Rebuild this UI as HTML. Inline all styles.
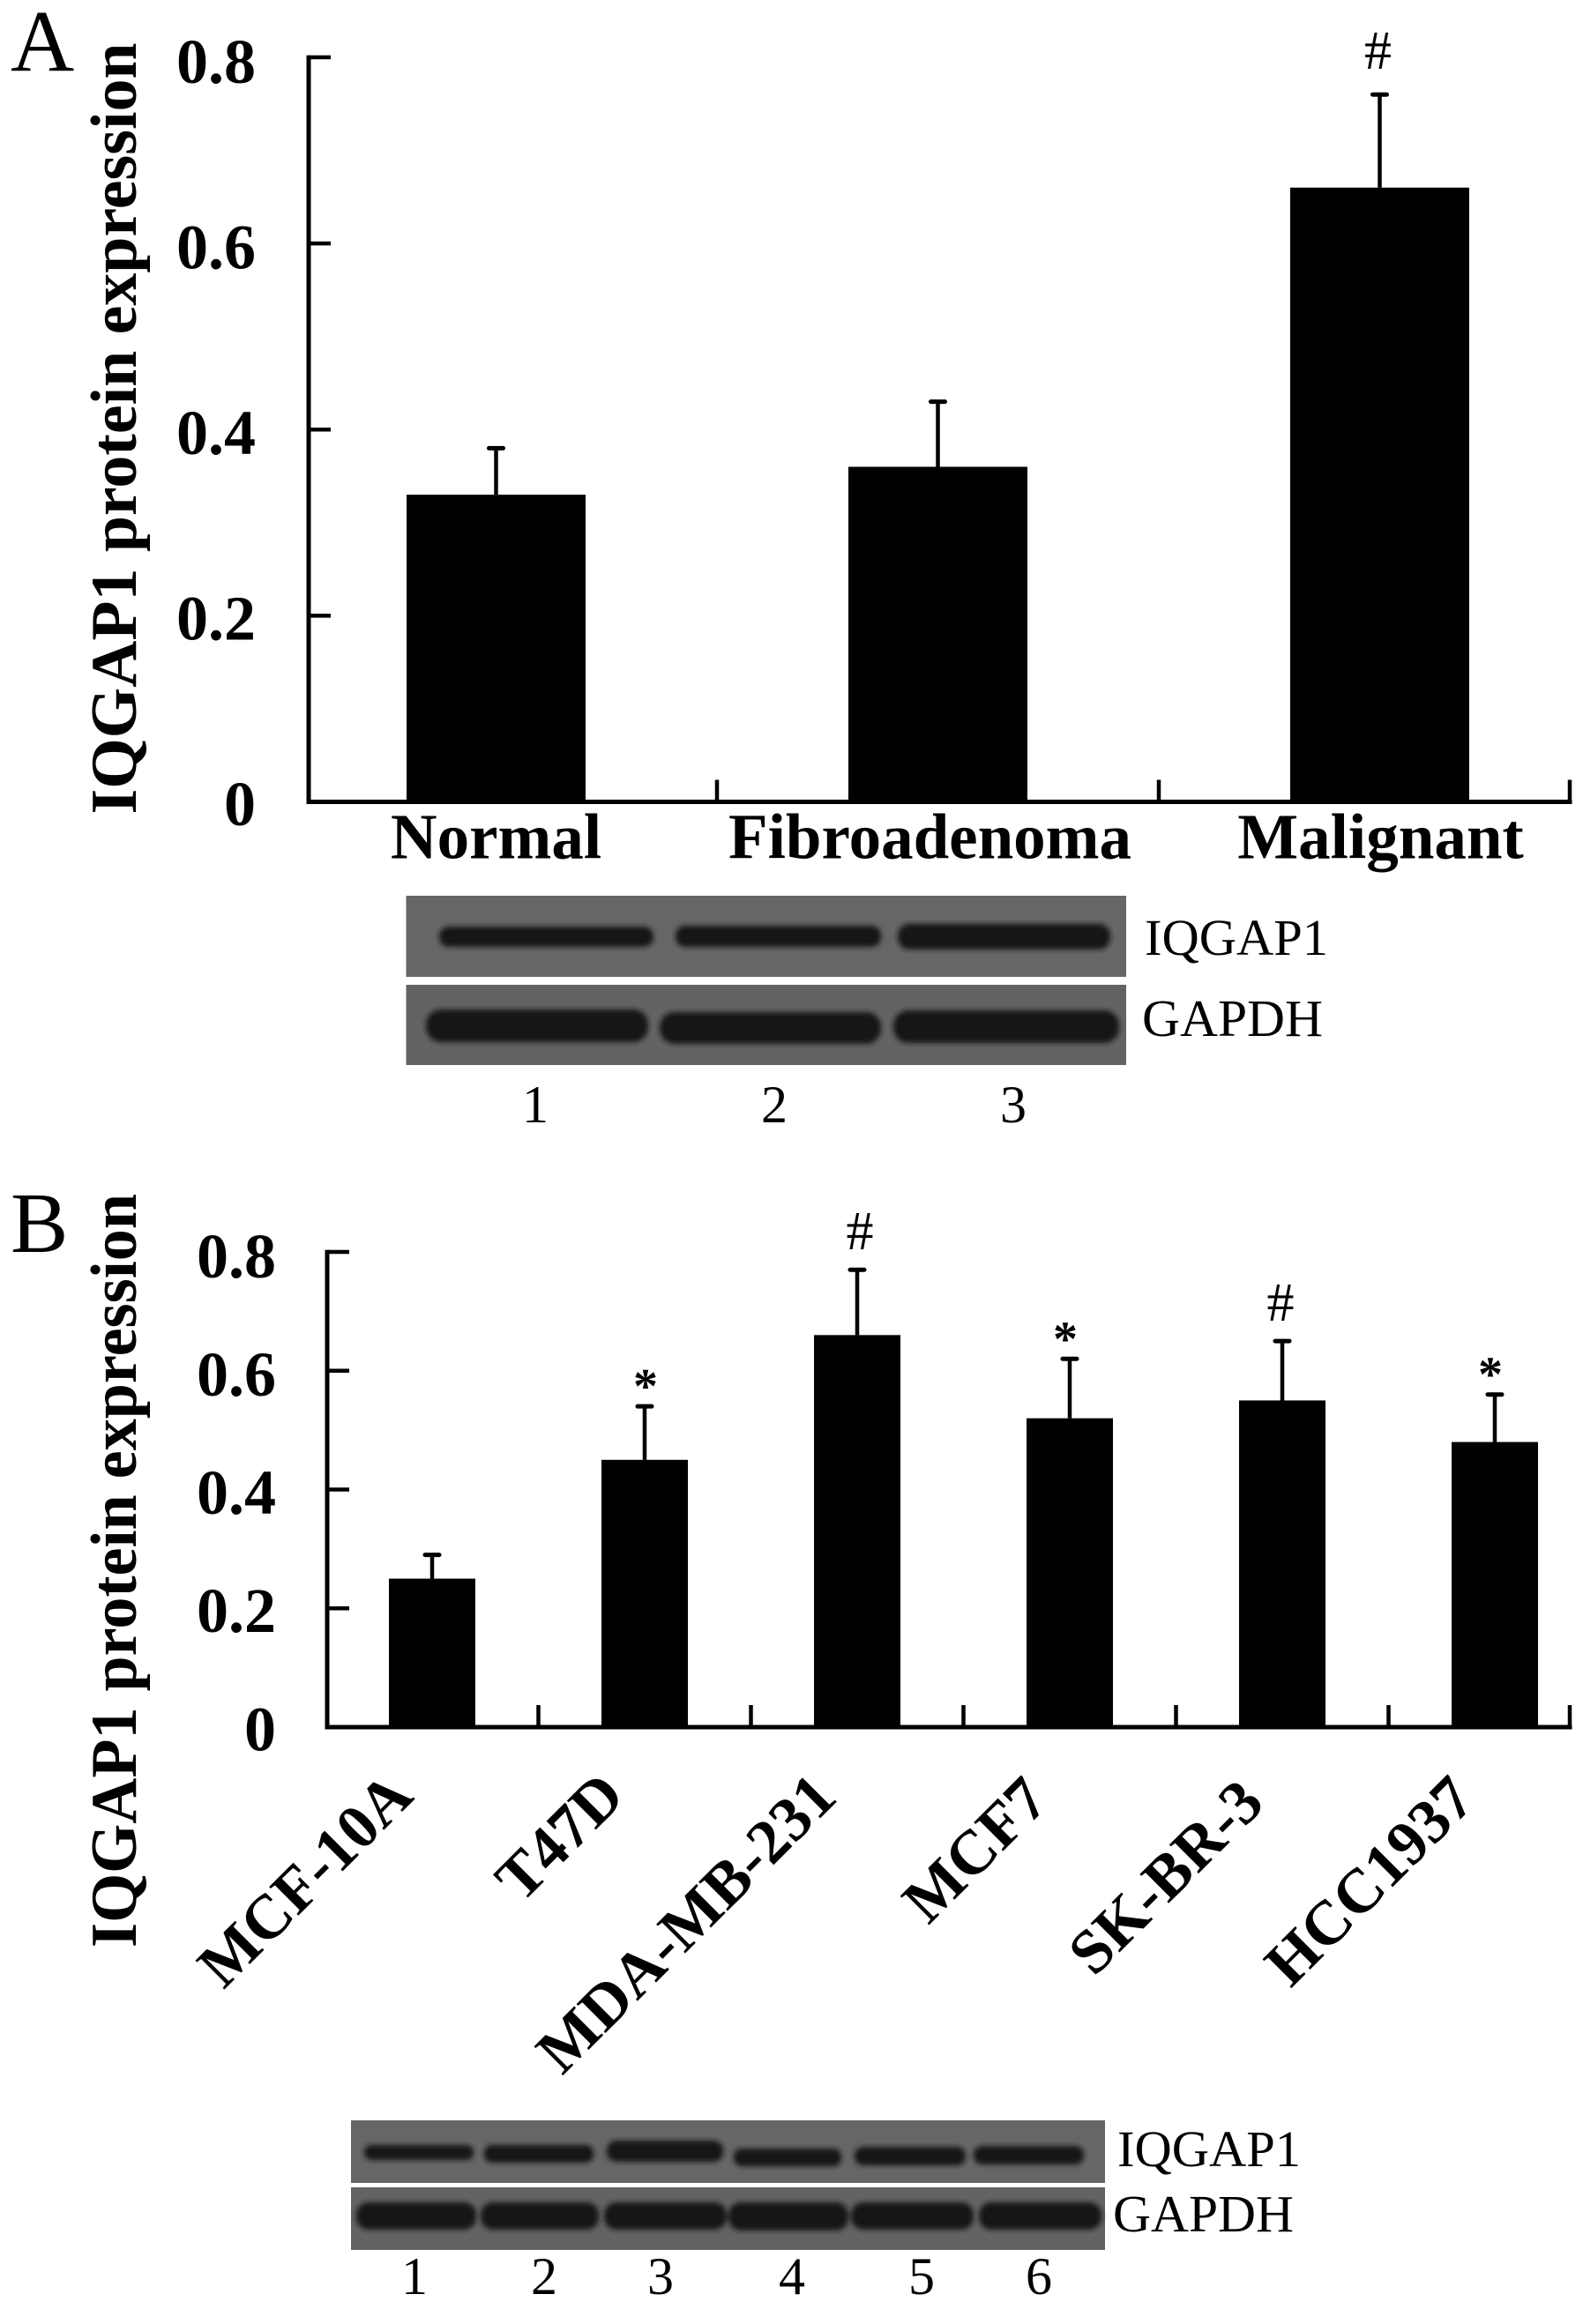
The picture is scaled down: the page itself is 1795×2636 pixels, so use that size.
<!DOCTYPE html>
<html lang="en">
<head>
<meta charset="utf-8">
<title>IQGAP1 protein expression</title>
<style>
html,body{margin:0;padding:0;background:#fff;}
svg{display:block;font-family:"Liberation Serif",serif;}
</style>
</head>
<body>
<svg id="figure" xmlns="http://www.w3.org/2000/svg" width="1795" height="2636" viewBox="0 0 1795 2636">
  <defs>
    <filter id="soft" x="-10%" y="-60%" width="120%" height="220%"><feGaussianBlur stdDeviation="2.8"/></filter>
  </defs>
  <rect width="1795" height="2636" fill="#fff"/>

  <text x="12" y="80" font-size="100">A</text>
  <text x="12" y="1420" font-size="98">B</text>

  <g id="panelA"></g>
  <g id="panelB"></g>

  <g>
    <rect x="460.5" y="1016" width="816.5" height="92" fill="#666"/>
    <rect x="460.5" y="1117" width="816.5" height="91" fill="#636363"/>
    <g fill="#161616" filter="url(#soft)">
      <rect x="498" y="1051" width="243" height="23" rx="11"/>
      <rect x="766" y="1050" width="233" height="24" rx="11"/>
      <rect x="1018" y="1048" width="241" height="29" rx="13"/>
      <rect x="483" y="1145" width="252" height="37" rx="17"/>
      <rect x="748" y="1148" width="251" height="36" rx="17"/>
      <rect x="1013" y="1146" width="256" height="37" rx="17"/>
    </g>
    <text x="1298" y="1083" font-size="58.5">IQGAP1</text>
    <text x="1295" y="1175" font-size="59.5">GAPDH</text>
    <g font-size="60" text-anchor="middle">
      <text x="607" y="1273">1</text>
      <text x="878" y="1273">2</text>
      <text x="1149" y="1273">3</text>
    </g>
  </g>

  <g>
    <rect x="398" y="2405" width="855" height="71" fill="#666"/>
    <rect x="398" y="2481" width="855" height="71" fill="#636363"/>
    <g fill="#161616" filter="url(#soft)">
      <rect x="413" y="2433" width="124" height="17" rx="8"/>
      <rect x="549" y="2433" width="124" height="20" rx="9"/>
      <rect x="688" y="2428" width="132" height="24" rx="11"/>
      <rect x="832" y="2437" width="122" height="20" rx="9"/>
      <rect x="969" y="2435" width="126" height="21" rx="10"/>
      <rect x="1104" y="2434" width="125" height="21" rx="10"/>
      <rect x="404" y="2498" width="136" height="31" rx="14"/>
      <rect x="545" y="2498" width="134" height="31" rx="14"/>
      <rect x="685" y="2498" width="139" height="31" rx="14"/>
      <rect x="826" y="2498" width="136" height="32" rx="14"/>
      <rect x="965" y="2498" width="139" height="31" rx="14"/>
      <rect x="1110" y="2498" width="139" height="31" rx="14"/>
    </g>
    <text x="1267" y="2457" font-size="58.5">IQGAP1</text>
    <text x="1262" y="2531" font-size="59.5">GAPDH</text>
    <g font-size="60" text-anchor="middle">
      <text x="470" y="2602">1</text>
      <text x="617" y="2602">2</text>
      <text x="749" y="2602">3</text>
      <text x="898" y="2602">4</text>
      <text x="1045" y="2602">5</text>
      <text x="1178" y="2602">6</text>
    </g>
  </g>
</svg>

<script>
const yTickValues = [0, 0.2, 0.4, 0.6, 0.8];
const yTickLabels = ['0', '0.2', '0.4', '0.6', '0.8'];
const yAxisTitle = 'IQGAP1 protein expression';

const categoriesA = ['Normal', 'Fibroadenoma', 'Malignant'];
const valuesA = [0.33, 0.36, 0.66];
const errorTopsA = [0.38, 0.43, 0.76];
const markersA = ['', '', '#'];

const categoriesB = ['MCF-10A', 'T47D', 'MDA-MB-231', 'MCF7', 'SK-BR-3', 'HCC1937'];
const valuesB = [0.25, 0.45, 0.66, 0.52, 0.55, 0.48];
const errorTopsB = [0.29, 0.54, 0.77, 0.62, 0.65, 0.56];
const markersB = ['', '*', '#', '*', '#', '*'];

const SVG_NS = 'http://www.w3.org/2000/svg';

function make(parent, tag, attrs, text) {
  const el = document.createElementNS(SVG_NS, tag);
  for (const k in attrs) el.setAttribute(k, attrs[k]);
  if (text !== undefined) el.textContent = text;
  parent.appendChild(el);
  return el;
}

function drawPanel(root, p, categories, values, errorTops, markers) {
  const yScale = v => p.y0 + (p.y8 - p.y0) * (v / 0.8);
  const xCenter = i => p.cx0 + p.band * i;

  yTickValues.forEach((t, i) => {
    const tick = make(root, 'line', {x1: p.axisX, x2: p.axisX + 25, y1: yScale(t), y2: yScale(t), stroke: '#000', 'stroke-width': 4.5});
    
    
    const label = make(root, 'text', {x: p.tickLabelX, y: yScale(t) + 26.3 + 2.5 * t / 0.8, 'font-size': 72, 'font-weight': 'bold', 'text-anchor': 'end'}, yTickLabels[i]);
    
    
  });

  const title = make(root, 'text', {
    transform: 'translate(154,' + p.titleBottom + ') rotate(-90)',
    'font-size': 74, 'font-weight': 'bold',
    textLength: p.titleLength, lengthAdjust: 'spacingAndGlyphs'
  }, yAxisTitle);
  
  

  categories.forEach((c, i) => {
    const bar = make(root, 'rect', {
      x: xCenter(i) - p.barWidth / 2, y: yScale(values[i]),
      width: p.barWidth, height: yScale(0) - yScale(values[i]), fill: '#000'
    });
    
    

    const stem = make(root, 'line', {x1: xCenter(i), x2: xCenter(i), y1: yScale(values[i]), y2: yScale(errorTops[i]), stroke: '#000', 'stroke-width': 4.5});
    
    

    const cap = make(root, 'line', {x1: xCenter(i) - 8, x2: xCenter(i) + 8, y1: yScale(errorTops[i]), y2: yScale(errorTops[i]), stroke: '#000', 'stroke-width': 5, 'stroke-linecap': 'round'});
    
    

    if (markers[i]) {
      const isHash = markers[i] === '#';
      const mark = make(root, 'text', {
        x: xCenter(i) + (p.markerDx[c] || 0), y: yScale(errorTops[i]) - (isHash ? p.hashGap : 4),
        'font-size': isHash ? 62 : 56, 'font-weight': isHash ? 'normal' : 'bold', 'text-anchor': 'middle'
      }, markers[i]);
      
      
    }

    const nudge = p.labelNudge[c] || [0, 0];
    const catAttrs = p.rotated
      ? {transform: 'translate(' + (xCenter(i) + nudge[0]) + ',' + (p.catY + nudge[1]) + ') rotate(-45)', 'text-anchor': 'end'}
      : {x: xCenter(i) + nudge[0], y: p.catY + nudge[1], 'text-anchor': 'middle'};
    catAttrs['font-size'] = p.catSize;
    catAttrs['font-weight'] = 'bold';
    if (p.labelLength && p.labelLength[c]) {
      catAttrs.textLength = p.labelLength[c];
      catAttrs.lengthAdjust = 'spacingAndGlyphs';
    }
    const cat = make(root, 'text', catAttrs, c);
    
    

    const edge = i < categories.length - 1 ? xCenter(i) + p.band / 2 : p.axisEnd;
    const xTick = make(root, 'line', {x1: edge, x2: edge, y1: yScale(0), y2: yScale(0) - 25, stroke: '#000', 'stroke-width': 4.5});
    
    
  });

  const yAxis = make(root, 'line', {x1: p.axisX, x2: p.axisX, y1: yScale(0.8) - 2.2, y2: yScale(0) + 2.5, stroke: '#000', 'stroke-width': 5});
  
  

  const xAxis = make(root, 'line', {x1: p.axisX - 2.5, x2: p.axisEnd + 2.5, y1: yScale(0), y2: yScale(0), stroke: '#000', 'stroke-width': 5});
  
  
}

drawPanel(document.getElementById('panelA'), {
  y0: 909.5, y8: 65, axisX: 350, axisEnd: 1780, cx0: 562.5, band: 501, barWidth: 203,
  tickLabelX: 290, titleBottom: 923.5, titleLength: 875, catY: 973.5, catSize: 73,
  rotated: false, hashGap: 29,
  markerDx: {'Malignant': -2},
  labelNudge: {'Fibroadenoma': [-9, 0], 'Malignant': [1, 0]}
}, categoriesA, valuesA, errorTopsA, markersA);

drawPanel(document.getElementById('panelB'), {
  y0: 1959, y8: 1420, axisX: 371, axisEnd: 1780, cx0: 490, band: 241, barWidth: 98,
  tickLabelX: 313, titleBottom: 2209, titleLength: 855, catY: 2040, catSize: 71,
  rotated: true, hashGap: 23,
  markerDx: {'T47D': 1, 'MDA-MB-231': 3, 'MCF7': -5, 'SK-BR-3': -2, 'HCC1937': -5},
  labelNudge: {
    'MCF-10A': [-19, 0], 'T47D': [-20, 0], 'MDA-MB-231': [-20.5, 1],
    'MCF7': [-21, 5], 'SK-BR-3': [-18, 8], 'HCC1937': [-19.5, 4]
  },
  labelLength: {'MDA-MB-231': 444}
}, categoriesB, valuesB, errorTopsB, markersB);
</script>
</body>
</html>
